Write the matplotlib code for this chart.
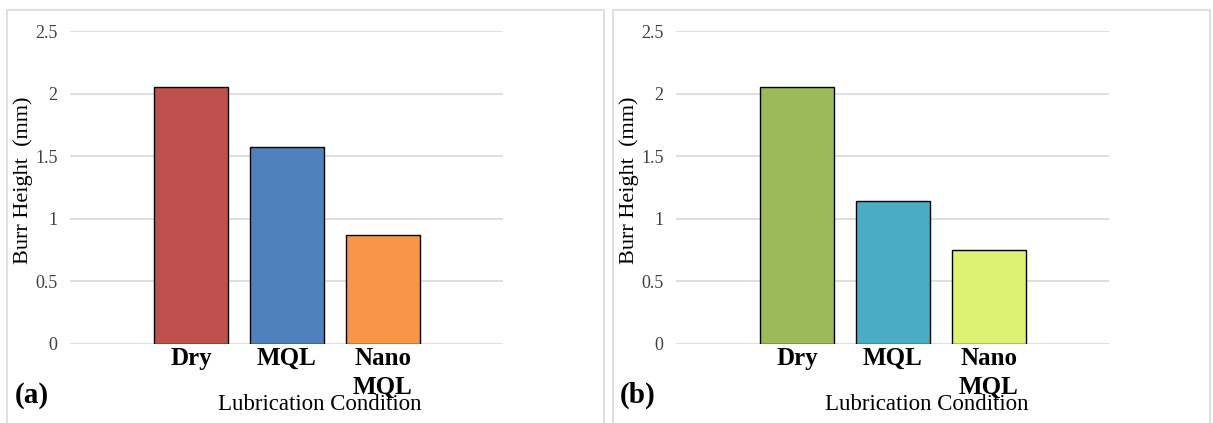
import matplotlib.pyplot as plt
from matplotlib.patches import Rectangle

# data
categories = ["Dry", "MQL", "Nano\nMQL"]
burr_a = [2.05, 1.57, 0.87]
burr_b = [2.05, 1.14, 0.75]
colors_a = ["#C0504D", "#4F81BD", "#F79646"]
colors_b = ["#9BBB59", "#4BACC6", "#DDF273"]
yticks = [0, 0.5, 1, 1.5, 2, 2.5]
ytick_labels = ["0", "0.5", "1", "1.5", "2", "2.5"]

W, H = 1213, 423
plt.rcParams['font.family'] = ['Liberation Serif', 'DejaVu Serif']
fig = plt.figure(figsize=(W / 100, H / 100), dpi=100)


def px_axes(x0, x1, ytop, ybot):
    return fig.add_axes([x0 / W, 1 - ybot / H, (x1 - x0) / W, (ybot - ytop) / H])


def panel(x0, x1, values, colors, tag, ylab_x, tag_x, xlab_x):
    # light grey frame around each panel
    fig.add_artist(Rectangle((x0 / W, -0.05), (x1 - x0) / W, 1 - 10 / H + 0.05,
                             transform=fig.transFigure, fill=False,
                             edgecolor="#D9D9D9", linewidth=1.2))
    ax = px_axes(x0 + 63, x0 + 496, 31, 344)
    ax.bar(range(len(values)), values, width=0.78, color=colors,
           edgecolor="black", linewidth=1.0, zorder=3)
    ax.set_xlim(-1.26, 3.25)
    ax.set_ylim(0, 2.5)
    ax.set_yticks(yticks)
    ax.set_yticklabels(ytick_labels, fontsize=13, color="#404040")
    ax.set_xticks(range(len(categories)))
    ax.set_xticklabels(categories, fontsize=18, fontweight="bold",
                       linespacing=1.35)
    ax.tick_params(axis="both", length=0)
    ax.tick_params(axis="y", pad=9)
    ax.tick_params(axis="x", pad=2)
    ax.yaxis.grid(True, color="#D9D9D9", linewidth=1.2, zorder=0)
    for s in ax.spines.values():
        s.set_visible(False)
    fig.text(ylab_x / W, 1 - 180 / H, "Burr Height  (mm)", rotation=90,
             fontsize=16, ha="center", va="center")
    fig.text(xlab_x / W, 1 - 404 / H, "Lubrication Condition",
             fontsize=16.5, ha="center", va="center")
    fig.text(tag_x / W, 1 - 395 / H, tag, fontsize=21, fontweight="bold",
             ha="left", va="center")
    return ax


panel(7, 604, burr_a, colors_a, "(a)", 23, 15, 320)
panel(613, 1210, burr_b, colors_b, "(b)", 629, 620, 927)

fig.savefig("out.png", dpi=100)
